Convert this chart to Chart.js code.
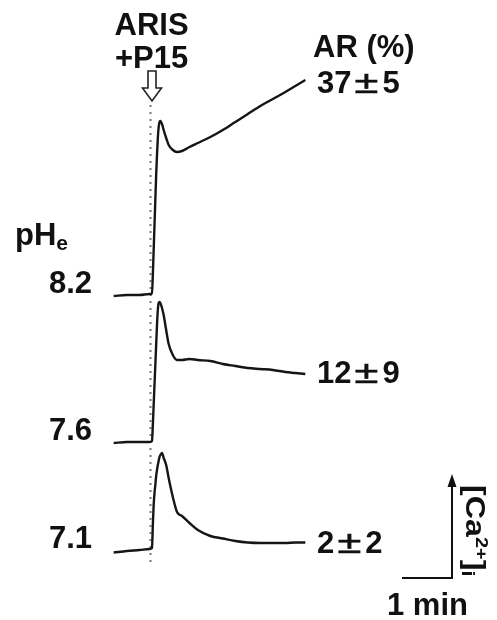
<!DOCTYPE html>
<html>
<head>
<meta charset="utf-8">
<title>[Ca2+]i responses to ARIS + P15 at different pHe</title>
<script src="https://cdn.jsdelivr.net/npm/chart.js@4.4.0/dist/chart.umd.min.js"></script>
<style>
    body { margin: 0; background: #fff; }
    #wrap { position: relative; width: 497px; height: 620px; overflow: hidden; }
    #chart { position: absolute; left: 0; top: 0; }
    .lbl {
        position: absolute;
        font: bold 31px "Liberation Sans", Arial, sans-serif;
        line-height: 31px;
        color: #111;
        white-space: nowrap;
    }
    .lbl sub { font-size: 0.68em; vertical-align: -0.22em; line-height: 0; }
    .lbl sup { font-size: 0.62em; vertical-align: 0.55em; line-height: 0; }
    .pm { display: inline-block; transform: scaleX(1.4); margin: 0 7px; font-weight: normal; -webkit-text-stroke: 0.6px #111; }
    .rot { transform-origin: 0 0; transform: rotate(90deg) scaleX(1.15); font-size: 28px; line-height: 28px; }
</style>
</head>
<body>
<div id="wrap">
    <canvas id="chart" width="497" height="620"></canvas>
</div>
<script>
// Time after addition (s), shared by all three recordings
const timeSec = [-46, -30, -15, -3, 0, 1, 2, 3, 4, 5, 6, 7, 8, 9, 10, 12, 14, 17, 20, 25, 30, 36, 45, 55, 70, 85, 100, 115, 130, 145, 160, 172, 184];

// [Ca2+]i traces (arbitrary units, baseline = 0)
const tracePH82 = [-0.01, 0, 0, 0.01, 0.01, 0.20, 0.45, 0.70, 0.95, 1.20, 1.40, 1.57, 1.68, 1.73, 1.74, 1.71, 1.65, 1.57, 1.50, 1.45, 1.43, 1.44, 1.48, 1.52, 1.58, 1.65, 1.73, 1.81, 1.89, 1.96, 2.03, 2.09, 2.15];
const tracePH76 = [-0.01, 0, 0, 0, 0.01, 0.17, 0.37, 0.57, 0.77, 0.97, 1.17, 1.32, 1.39, 1.40, 1.39, 1.34, 1.27, 1.12, 0.98, 0.87, 0.82, 0.82, 0.83, 0.82, 0.81, 0.78, 0.76, 0.74, 0.73, 0.72, 0.70, 0.69, 0.68];
const tracePH71 = [-0.015, 0, 0.01, 0.02, 0.03, 0.26, 0.46, 0.58, 0.66, 0.75, 0.81, 0.86, 0.90, 0.94, 0.96, 0.98, 0.93, 0.86, 0.73, 0.54, 0.39, 0.35, 0.28, 0.21, 0.15, 0.125, 0.10, 0.085, 0.08, 0.08, 0.08, 0.085, 0.085];

const phValues = ['8.2', '7.6', '7.1'];
const arMeans = ['37', '12', '2'];
const arErrors = ['5', '9', '2'];

const stimulusSec = -1.8;
const scaleBarSec = 60;

// layout
const traceOffsets = [2.56, 1.09, 0];
const traces = [tracePH82, tracePH76, tracePH71];
const lineColor = '#151515';

const datasets = traces.map((tr, i) => ({
    data: timeSec.map((t, j) => ({ x: t, y: tr[j] + traceOffsets[i] })),
    borderColor: lineColor,
    borderWidth: 2.4,
    pointRadius: 0,
    cubicInterpolationMode: 'monotone'
}));

// dotted line marking the addition
datasets.push({
    data: [{ x: stimulusSec, y: 4.46 }, { x: stimulusSec, y: -0.12 }],
    borderColor: '#777',
    borderWidth: 2,
    borderDash: [2, 5],
    pointRadius: 0
});

// Arrow and scale bar
const overlayMarks = {
    id: 'overlayMarks',
    afterDatasetsDraw(chart) {
        const { ctx, scales: { x, y } } = chart;
        ctx.save();

        // hollow arrow above the dotted line
        const ax = x.getPixelForValue(stimulusSec) + 1.5;
        ctx.beginPath();
        ctx.moveTo(ax - 4, 71);
        ctx.lineTo(ax + 4, 71);
        ctx.lineTo(ax + 4, 88);
        ctx.lineTo(ax + 9.5, 88);
        ctx.lineTo(ax, 101);
        ctx.lineTo(ax - 9.5, 88);
        ctx.lineTo(ax - 4, 88);
        ctx.closePath();
        ctx.strokeStyle = '#222';
        ctx.lineWidth = 1.6;
        ctx.stroke();

        // scale bar: 1 min horizontal, [Ca2+]i vertical arrow
        const x0 = x.getPixelForValue(300);
        const x1 = x.getPixelForValue(300 + scaleBarSec);
        const yb = y.getPixelForValue(-0.27);
        const yt = y.getPixelForValue(0.77);
        ctx.strokeStyle = '#111';
        ctx.lineWidth = 2;
        ctx.beginPath();
        ctx.moveTo(x0, yb);
        ctx.lineTo(x1, yb);
        ctx.lineTo(x1, yt + 10);
        ctx.stroke();
        ctx.fillStyle = '#111';
        ctx.beginPath();
        ctx.moveTo(x1, yt);
        ctx.lineTo(x1 + 4.5, yt + 13);
        ctx.lineTo(x1 - 4.5, yt + 13);
        ctx.closePath();
        ctx.fill();

        ctx.restore();
    }
};

new Chart(document.getElementById('chart'), {
    type: 'line',
    data: { datasets },
    options: {
        responsive: false,
        animation: false,
        layout: { padding: 0 },
        plugins: { legend: { display: false }, tooltip: { enabled: false } },
        scales: {
            x: { type: 'linear', min: -182.4, max: 414, display: false },
            y: { type: 'linear', min: -0.69, max: 5.51, display: false }
        }
    },
    plugins: [overlayMarks]
});

// Text labels (real text, placed by baseline)
const wrap = document.getElementById('wrap');
function addLabel(html, x, baseline, align) {
    const el = document.createElement('div');
    el.className = 'lbl';
    el.innerHTML = html;
    wrap.appendChild(el);
    el.style.top = (baseline - 0.8465 * 31) + 'px';
    if (align === 'right') el.style.left = (x - el.offsetWidth) + 'px';
    else if (align === 'center') el.style.left = (x - el.offsetWidth / 2) + 'px';
    else el.style.left = x + 'px';
    return el;
}

addLabel('ARIS', 151.5, 35, 'center');
addLabel('+P15', 151.5, 68, 'center');
addLabel('AR (%)', 313, 57);
addLabel('pH<sub>e</sub>', 15, 245);
addLabel('1 min', 387, 615);

const phBaselines = [293, 440, 548];
const arBaselines = [93, 383, 553];
phValues.forEach((v, i) => addLabel(v, 92, phBaselines[i], 'right'));
arMeans.forEach((m, i) => addLabel(m + '<span class="pm">\u00b1</span>' + arErrors[i], 317, arBaselines[i]));

// rotated axis label next to the vertical scale bar
const caLabel = document.createElement('div');
caLabel.className = 'lbl rot';
caLabel.innerHTML = '[Ca<sup>2+</sup>]<sub>i</sub>';
wrap.appendChild(caLabel);
caLabel.style.left = (465 + 0.8465 * 28) + 'px';
caLabel.style.top = '485px';
</script>
</body>
</html>
